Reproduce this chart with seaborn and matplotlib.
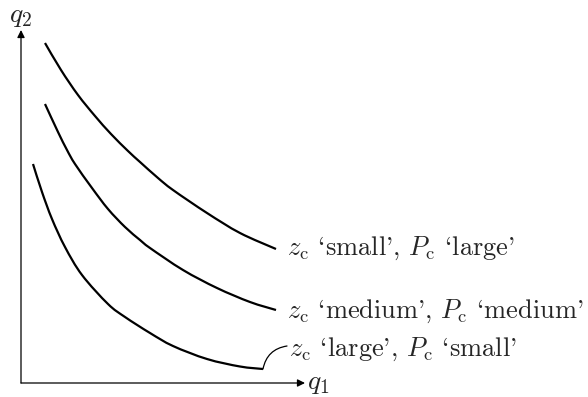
import matplotlib
matplotlib.use("Agg")
import matplotlib.pyplot as plt
from matplotlib.path import Path
from matplotlib.patches import PathPatch
import numpy as np
import seaborn as sns
import pandas as pd

# Indifference curves in the (q1, q2) plane
top_q1 = [2.4, 4.0, 5.7, 7.4, 9.0, 10.7, 11.9, 13.7, 15.2, 18.6, 21.9, 25.5]
top_q2 = [34.0, 31.3, 28.8, 26.7, 24.9, 23.2, 22.1, 20.5, 19.3, 17.0, 15.0, 13.4]

mid_q1 = [2.4, 3.7, 4.6, 5.4, 7.1, 8.7, 10.4, 11.9, 12.9, 16.2, 19.6, 22.9, 25.5]
mid_q2 = [27.9, 25.1, 23.3, 21.9, 19.5, 17.4, 15.6, 14.3, 13.5, 11.3, 9.5, 8.1, 7.3]

low_q1 = [1.2, 2.1, 3.1, 4.4, 6.1, 8.7, 10.4, 12.9, 15.2, 18.6, 21.9, 24.2]
low_q2 = [21.9, 19.1, 16.4, 13.6, 10.8, 7.9, 6.6, 5.0, 3.7, 2.4, 1.65, 1.4]

labels = [
    r"$z_{\rm c}$ `small', $P_{\rm c}$ `large'",
    r"$z_{\rm c}$ `medium', $P_{\rm c}$ `medium'",
    r"$z_{\rm c}$ `large', $P_{\rm c}$ `small'",
]

sns.set_theme(style="white")
plt.rcParams["font.family"] = ["cmr10"]
plt.rcParams["mathtext.fontset"] = "cm"
plt.rcParams["axes.unicode_minus"] = False

frames = []
for name, xs, ys in [("top", top_q1, top_q2), ("mid", mid_q1, mid_q2), ("low", low_q1, low_q2)]:
    frames.append(pd.DataFrame({"q1": xs, "q2": ys, "curve": name}))
df = pd.concat(frames, ignore_index=True)

fig = plt.figure(figsize=(5.88, 3.97), dpi=100)
ax = fig.add_axes([0, 0, 1, 1])

sns.lineplot(data=df, x="q1", y="q2", hue="curve", units="curve", estimator=None,
             sort=False, palette=["black"] * 3, linewidth=1.6, legend=False, ax=ax)


def smooth_path(xy):
    """Catmull-Rom spline through the vertices, as cubic Bezier segments."""
    pts = np.vstack([xy[0], xy, xy[-1]])
    verts = [tuple(xy[0])]
    codes = [Path.MOVETO]
    for i in range(1, len(pts) - 2):
        p0, p1, p2, p3 = pts[i - 1], pts[i], pts[i + 1], pts[i + 2]
        c1 = p1 + (p2 - p0) / 6.0
        c2 = p2 - (p3 - p1) / 6.0
        verts += [tuple(c1), tuple(c2), tuple(p2)]
        codes += [Path.CURVE4] * 3
    return Path(verts, codes)


# Render each seaborn polyline as a smooth curve through the same vertices
for line in list(ax.lines):
    xy = np.asarray(line.get_xydata(), dtype=float)
    patch = PathPatch(smooth_path(xy), facecolor="none", edgecolor=line.get_color(),
                      lw=line.get_linewidth(), capstyle="butt", joinstyle="round")
    ax.add_patch(patch)
    line.remove()

ax.set_xlim(-2.1, 56.7)
ax.set_ylim(-1.4, 38.3)
ax.axis("off")

# Axes with arrow heads
arrow = dict(arrowstyle="-|>", color="black", lw=0.9, mutation_scale=11,
             shrinkA=0, shrinkB=0)
ax.annotate("", xy=(28.4, 0), xytext=(0, 0), arrowprops=arrow)
ax.annotate("", xy=(0, 35.3), xytext=(0, 0), arrowprops=arrow)
ax.text(28.6, 0, r"$q_1$", fontsize=20, ha="left", va="center")
ax.text(0, 35.4, r"$q_2$", fontsize=20, ha="center", va="bottom")

# Curve labels
ax.text(26.6, 13.5, labels[0], fontsize=19, ha="left", va="center")
ax.text(26.6, 7.2, labels[1], fontsize=19, ha="left", va="center")
ax.text(26.8, 3.4, labels[2], fontsize=19, ha="left", va="center")

# Leader from the lowest curve to its label
ax.annotate("", xy=(26.6, 3.7), xytext=(low_q1[-1], low_q2[-1]),
            arrowprops=dict(arrowstyle="-", color="black", lw=0.9,
                            shrinkA=0, shrinkB=0,
                            connectionstyle="arc3,rad=-0.35"))

fig.savefig("out.png", dpi=100)
